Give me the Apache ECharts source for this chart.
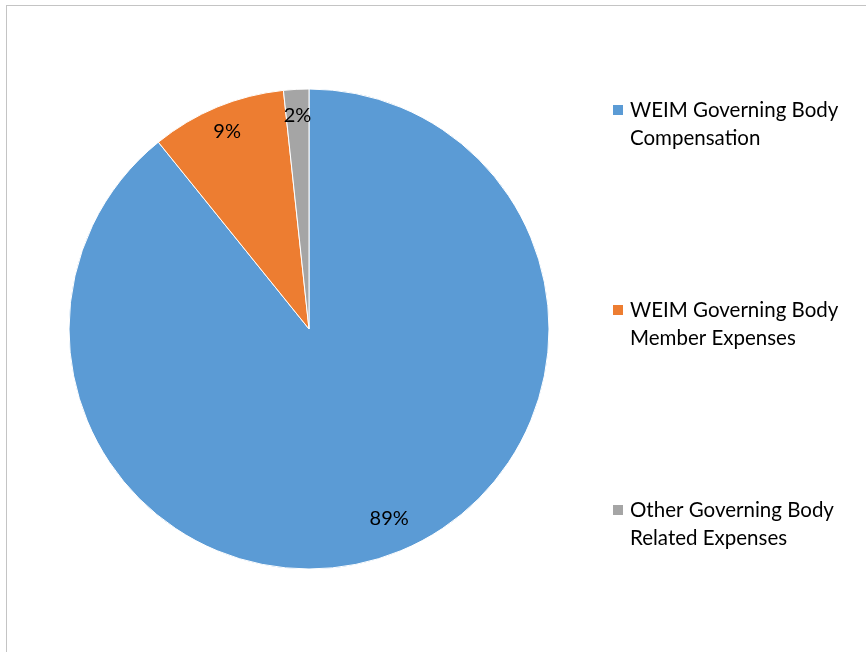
<!DOCTYPE html>
<html>
<head>
<meta charset="utf-8">
<script src="https://cdn.jsdelivr.net/npm/echarts@6/dist/echarts.min.js"></script>
<style>
html,body{margin:0;padding:0;background:#fff;}
#frame{position:absolute;left:6px;top:5px;width:900px;height:700px;border-left:1px solid #c4c4c4;border-top:1px solid #c4c4c4;}
#chart{position:absolute;left:0;top:0;width:866px;height:652px;}
</style>
</head>
<body>
<div id="frame"></div>
<div id="chart"></div>
<script>
const categories = ['WEIM Governing Body\nCompensation', 'WEIM Governing Body\nMember Expenses', 'Other Governing Body\nRelated Expenses'];
const values = [89.2, 9.1, 1.7];
const labelsText = ['89%', '9%', '2%'];
const colors = ['#5B9BD5', '#ED7D31', '#A5A5A5'];

const data = categories.map((c, i) => ({ name: c, value: values[i], itemStyle: { color: colors[i] } }));
const labelData = categories.map((c, i) => ({ name: c, value: values[i], label: { formatter: labelsText[i] } }));
labelData[0].label.offset = [9, -12];

const chart = echarts.init(document.getElementById('chart'), null, { renderer: 'canvas' });
chart.setOption({
  animation: false,
  legend: {
    orient: 'vertical',
    left: 613,
    top: 96,
    padding: 0,
    itemWidth: 12,
    itemHeight: 56,
    itemGap: 144,
    icon: 'path://M0,0 M12,56 M0,9 L10,9 L10,19 L0,19 Z',
    itemStyle: { borderWidth: 0 },
    selectedMode: false,
    data: categories,
    textStyle: { fontFamily: 'Lato', fontSize: 20.5, color: '#000', lineHeight: 28 }
  },
  series: [
    {
      type: 'pie',
      center: [309, 329],
      radius: [0, 240],
      startAngle: 90,
      clockwise: true,
      label: { show: false },
      labelLine: { show: false },
      itemStyle: { borderColor: '#fff', borderWidth: 1 },
      emphasis: { disabled: true },
      data: data
    },
    {
      type: 'pie',
      center: [309, 329],
      radius: [195, 227],
      startAngle: 90,
      clockwise: true,
      silent: true,
      legendHoverLink: false,
      itemStyle: { color: 'rgba(0,0,0,0)', borderWidth: 0 },
      label: { show: true, position: 'inside', fontFamily: 'Lato', fontSize: 20, color: '#000' },
      labelLine: { show: false },
      emphasis: { disabled: true },
      data: labelData
    }
  ]
});
</script>
</body>
</html>
